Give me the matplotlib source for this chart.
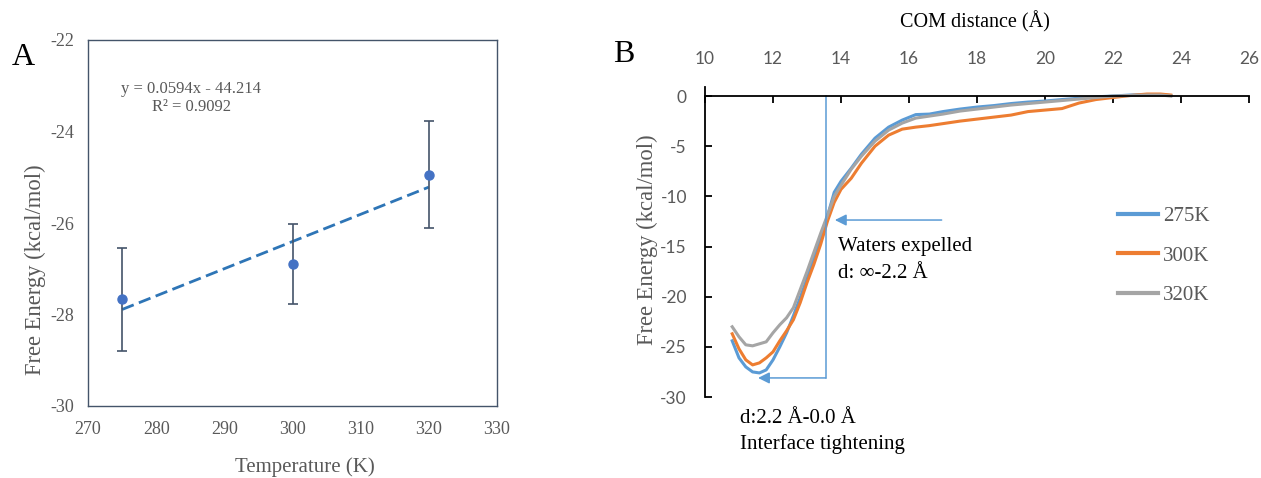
import numpy as np
import matplotlib
matplotlib.use("Agg")
import matplotlib.pyplot as plt

plt.rcParams['axes.unicode_minus'] = False

# ---- panel A data (free energy vs temperature)
temps = [275, 300, 320]
dG = [-27.67, -26.90, -24.94]
dG_err = [1.12, 0.88, 1.18]

# ---- panel B data (PMF curves vs COM distance)
com = [10.8, 11.0, 11.2, 11.4, 11.6, 11.8, 12.0, 12.2, 12.4, 12.6, 12.8, 13.0,
       13.2, 13.4, 13.6, 13.8, 14.0, 14.3, 14.6, 15.0, 15.4, 15.8, 16.2, 16.6,
       17.0, 17.5, 18.0, 18.5, 19.0, 19.5, 20.0, 20.5, 21.0, 21.5, 22.0, 22.5,
       23.0, 23.4, 23.7]
pmf_275 = [-24.4, -26.1, -27.0, -27.5, -27.6, -27.3, -26.3, -25.0, -23.6, -21.9,
           -20.1, -18.2, -16.2, -14.2, -12.0, -9.6, -8.5, -7.2, -5.8, -4.2, -3.1,
           -2.4, -1.85, -1.8, -1.55, -1.3, -1.1, -0.95, -0.75, -0.6, -0.5, -0.35,
           -0.22, -0.08, 0.0, 0.1, 0.15, 0.15, 0.05]
pmf_300 = [-23.7, -25.2, -26.3, -26.8, -26.6, -26.1, -25.5, -24.4, -23.4, -22.3,
           -20.6, -18.6, -16.8, -14.8, -12.5, -10.6, -9.3, -8.2, -6.7, -5.0, -3.9,
           -3.3, -3.1, -2.95, -2.75, -2.5, -2.3, -2.1, -1.9, -1.55, -1.4, -1.25,
           -0.7, -0.35, -0.15, 0.05, 0.2, 0.2, 0.1]
pmf_320 = [-23.0, -24.0, -24.8, -24.9, -24.7, -24.5, -23.6, -22.8, -22.1, -21.1,
           -19.3, -17.5, -15.6, -13.7, -11.9, -10.0, -8.9, -7.3, -6.0, -4.5, -3.4,
           -2.7, -2.2, -2.0, -1.8, -1.5, -1.3, -1.1, -0.9, -0.75, -0.6, -0.45,
           -0.3, -0.15, 0.0, 0.05, 0.1, 0.1, 0.0]
labels_B = ["275K", "300K", "320K"]
colors_B = ["#5B9BD5", "#ED7D31", "#A5A5A5"]

serif = ["Liberation Serif", "DejaVu Serif"]
sans = ["Lato", "DejaVu Sans"]
grey = "#595959"

W, H = 1261, 478
fig = plt.figure(figsize=(W/100, H/100), dpi=100)

def fx(px):
    return px / W

def fy(py):
    return 1 - py / H

# ------------------------------------------------ panel A
axA = fig.add_axes([fx(88), fy(406), fx(497 - 88), (406 - 40) / H])
axA.errorbar(temps, dG, yerr=dG_err, fmt='o', color='#4472C4', ms=6.5,
             ecolor='#44546A', elinewidth=1.2, capsize=3.5, capthick=1.2, zorder=3)
p = np.polyfit(temps, dG, 1)
xt = np.array([temps[0], temps[-1]])
axA.plot(xt, np.polyval(p, xt), color='#2E75B6', lw=2, dashes=(4.5, 2), zorder=2)
axA.set_xlim(270, 330)
axA.set_ylim(-30, -22)
axA.set_xticks(range(270, 331, 10))
axA.set_yticks(range(-30, -21, 2))
axA.tick_params(length=0, labelsize=13, labelcolor=grey)
axA.tick_params(axis='y', pad=10)
axA.tick_params(axis='x', pad=11)
for t in axA.get_xticklabels() + axA.get_yticklabels():
    t.set_family(serif)
for s in axA.spines.values():
    s.set_color('#44546A')
    s.set_linewidth(1.0)

fig.text(fx(191.5), fy(98), "y = 0.0594x - 44.214\nR² = 0.9092", ha='center',
         va='center', multialignment='center', fontsize=12, color=grey,
         family=serif, linespacing=1.15)
fig.text(fx(35), fy(270), "Free Energy (kcal/mol)", rotation=90, ha='center',
         va='center', fontsize=16.3, color=grey, family=serif)
fig.text(fx(305), fy(467), "Temperature (K)", ha='center', va='center',
         fontsize=15, color=grey, family=serif)
fig.text(fx(12), fy(57), "A", ha='left', va='center', fontsize=23,
         color='black', family=serif)

# ------------------------------------------------ panel B
axB = fig.add_axes([fx(705), fy(397), fx(1249 - 705), (397 - 87) / H])
for yv, lab, c in zip([pmf_275, pmf_300, pmf_320], labels_B, colors_B):
    axB.plot(com, yv, color=c, lw=2.2, label=lab)
axB.set_xlim(10, 26)
axB.set_ylim(-30, 0.9)
axB.set_xticks(range(10, 27, 2))
axB.set_yticks(range(-30, 1, 5))
axB.spines['top'].set_position(('data', 0))
axB.spines['bottom'].set_visible(False)
axB.spines['right'].set_visible(False)
for s in ['top', 'left']:
    axB.spines[s].set_linewidth(1.3)
axB.xaxis.tick_top()
axB.tick_params(direction='in', length=5, width=1.3, labelsize=12.5,
                labelcolor=grey)
axB.tick_params(axis='x', pad=21)
axB.tick_params(axis='y', pad=13)
for t in axB.get_xticklabels() + axB.get_yticklabels():
    t.set_family(sans)

# arrows
arrow_c = '#5B9BD5'
x_split = 13.55
y_low = -28.1
axB.plot([x_split, x_split], [0, y_low], color=arrow_c, lw=1.1)
axB.annotate("", xy=(11.56, y_low), xytext=(x_split, y_low),
             arrowprops=dict(arrowstyle='-|>', color=arrow_c, lw=1.1,
                             mutation_scale=17, shrinkA=0, shrinkB=0))
axB.annotate("", xy=(13.82, -12.36), xytext=(16.96, -12.36),
             arrowprops=dict(arrowstyle='-|>', color=arrow_c, lw=1.1,
                             mutation_scale=17, shrinkA=0, shrinkB=0))

axB.text(13.91, -15.0, "Waters expelled", fontsize=15, family=serif,
         va='center', ha='left', color='black')
axB.text(13.91, -17.65, "d: ∞-2.2 Å", fontsize=15, family=serif,
         va='center', ha='left', color='black')
axB.text(11.03, -32.1, "d:2.2 Å-0.0 Å", fontsize=15, family=serif,
         va='center', ha='left', color='black', clip_on=False)
axB.text(11.03, -34.7, "Interface tightening", fontsize=15, family=serif,
         va='center', ha='left', color='black', clip_on=False)

leg = axB.legend(loc='center left', bbox_to_anchor=((1118 - 705) / 544, 0.455),
                 frameon=False, handlelength=1.9, handletextpad=0.25,
                 labelspacing=0.95, borderpad=0, borderaxespad=0,
                 prop={'family': serif, 'size': 15})
for t in leg.get_texts():
    t.set_color(grey)
for l in leg.get_lines():
    l.set_linewidth(3)

fig.text(fx(647), fy(240), "Free Energy (kcal/mol)", rotation=90, ha='center',
         va='center', fontsize=16.3, color=grey, family=serif)
fig.text(fx(975), fy(22), "COM distance (Å)", ha='center', va='center',
         fontsize=14.5, color='black', family=serif)
fig.text(fx(613), fy(55), "B", ha='left', va='center', fontsize=23,
         color='black', family=serif)

fig.savefig("out.png", dpi=100)
